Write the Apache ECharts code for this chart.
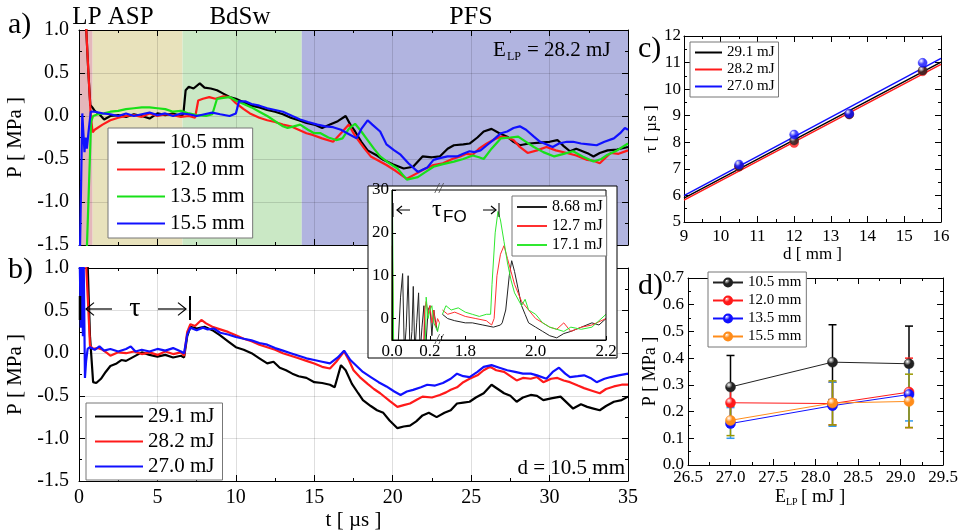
<!DOCTYPE html>
<html><head><meta charset="utf-8">
<script src="https://cdn.jsdelivr.net/npm/echarts@6/dist/echarts.min.js"></script>
<style>html,body{margin:0;padding:0;background:#fff}#c{width:958px;height:530px}</style>
</head><body><div id="c"></div>
<script>
// ---------- Panel a: pressure vs time at several distances (E_LP = 28.2 mJ) ----------
const seriesNamesA = ['10.5 mm', '12.0 mm', '13.5 mm', '15.5 mm'];
const a105 = [[0.45,1.05],[0.6,0.5],[0.72,0.13],[0.85,0.1],[1.0,0.06],[1.3,0.02],[1.6,-0.04],[2.0,0.0],[2.5,0.01],[3.0,-0.01],[3.5,0.02],[4.0,0.0],[4.5,-0.03],[5.0,0.03],[5.5,0.01],[6.0,0.03],[6.5,0.0],[6.65,0.02],[6.8,0.3],[7.0,0.34],[7.3,0.32],[7.7,0.38],[8.0,0.33],[8.4,0.32],[8.8,0.3],[9.2,0.26],[9.6,0.22],[10.0,0.2],[10.5,0.16],[11.0,0.12],[11.5,0.1],[12.0,0.07],[12.5,0.05],[13.0,0.02],[13.5,-0.02],[14.0,-0.05],[14.5,-0.08],[15.0,-0.1],[15.5,-0.14],[16.0,-0.1],[16.5,-0.06],[17.0,0.0],[17.3,-0.1],[17.6,-0.18],[18.0,-0.3],[18.4,-0.4],[19.0,-0.46],[19.4,-0.51],[20.0,-0.56],[20.7,-0.61],[21.3,-0.59],[21.9,-0.47],[22.5,-0.48],[23.0,-0.47],[23.5,-0.38],[23.9,-0.34],[24.5,-0.33],[24.9,-0.32],[25.4,-0.25],[25.8,-0.18],[26.3,-0.15],[26.8,-0.2],[27.3,-0.24],[27.7,-0.3],[28.1,-0.34],[28.7,-0.32],[29.4,-0.31],[30.0,-0.3],[30.5,-0.28],[30.9,-0.35],[31.3,-0.41],[31.7,-0.38],[32.1,-0.41],[32.5,-0.44],[32.8,-0.47],[33.2,-0.43],[33.7,-0.40],[34.3,-0.39],[35.0,-0.36]];
const a120 = [[0.45,1.05],[0.6,0.5],[0.75,0.0],[0.87,-0.19],[1.0,-0.16],[1.5,-0.1],[2.0,-0.05],[2.5,-0.02],[3.0,0.0],[3.5,0.01],[4.0,-0.01],[4.5,0.03],[5.0,0.0],[5.5,0.02],[6.0,0.01],[6.5,-0.01],[7.0,0.0],[7.4,-0.02],[7.6,0.18],[7.9,0.2],[8.3,0.22],[8.7,0.2],[9.2,0.23],[9.6,0.22],[10.0,0.15],[10.5,0.08],[10.9,0.03],[11.5,-0.02],[12.0,-0.05],[12.5,-0.07],[13.0,-0.1],[13.5,-0.12],[14.0,-0.16],[14.5,-0.2],[14.9,-0.22],[15.5,-0.26],[16.2,-0.3],[16.7,-0.2],[17.2,-0.1],[17.5,-0.2],[17.8,-0.28],[18.2,-0.38],[18.6,-0.47],[19.1,-0.52],[19.6,-0.57],[20.2,-0.64],[20.9,-0.73],[21.5,-0.67],[22.0,-0.62],[22.6,-0.57],[23.2,-0.55],[23.8,-0.5],[24.3,-0.47],[24.7,-0.44],[25.1,-0.45],[25.5,-0.38],[26.0,-0.32],[26.5,-0.27],[26.9,-0.24],[27.3,-0.25],[27.7,-0.28],[28.1,-0.36],[28.6,-0.43],[29.2,-0.4],[29.8,-0.36],[30.4,-0.4],[31.1,-0.43],[31.7,-0.46],[32.4,-0.51],[32.8,-0.52],[33.2,-0.55],[33.6,-0.48],[33.9,-0.43],[34.4,-0.44],[35.0,-0.4]];
const a135 = [[0.49,-1.6],[0.77,-0.07],[0.9,0.0],[1.2,0.02],[1.6,0.03],[2.0,0.05],[2.5,0.06],[3.0,0.08],[3.5,0.09],[4.0,0.1],[4.5,0.1],[5.0,0.09],[5.5,0.08],[6.0,0.05],[6.5,0.06],[7.0,0.03],[7.5,0.01],[8.1,0.0],[8.5,0.02],[8.8,0.2],[9.2,0.21],[9.6,0.22],[10.0,0.18],[10.5,0.14],[11.0,0.1],[11.5,0.05],[12.0,0.0],[12.5,-0.06],[13.0,-0.12],[13.3,-0.14],[13.7,-0.12],[14.1,-0.1],[14.6,-0.16],[15.0,-0.2],[15.4,-0.2],[15.9,-0.25],[16.4,-0.28],[16.8,-0.26],[17.2,-0.15],[17.6,-0.09],[18.0,-0.18],[18.4,-0.28],[18.8,-0.38],[19.2,-0.47],[19.7,-0.54],[20.3,-0.61],[20.9,-0.74],[21.6,-0.71],[22.1,-0.65],[22.6,-0.59],[23.2,-0.56],[23.9,-0.53],[24.5,-0.5],[25.1,-0.46],[25.5,-0.48],[25.8,-0.5],[26.3,-0.38],[26.9,-0.26],[27.5,-0.25],[28.0,-0.24],[28.5,-0.3],[29.0,-0.36],[29.6,-0.42],[30.3,-0.47],[30.9,-0.44],[31.5,-0.41],[32.1,-0.47],[32.8,-0.53],[33.3,-0.5],[33.7,-0.45],[34.3,-0.4],[35.0,-0.32]];
const a155 = [[0.06,-1.6],[0.21,0.03],[0.28,-0.2],[0.35,-0.42],[0.42,-0.25],[0.5,-0.38],[0.6,-0.2],[0.75,0.05],[1.0,0.05],[1.5,0.03],[2.0,0.02],[2.5,0.0],[3.0,0.03],[3.5,0.0],[4.0,0.02],[4.5,0.04],[5.0,0.01],[5.5,0.03],[6.0,0.0],[6.5,0.03],[7.0,0.02],[7.5,0.0],[8.0,0.02],[8.5,0.04],[9.0,0.02],[9.6,0.0],[10.0,0.03],[10.2,0.17],[10.6,0.17],[11.0,0.14],[11.5,0.12],[12.0,0.09],[12.5,0.07],[13.0,0.05],[13.6,0.0],[14.1,-0.04],[14.6,-0.07],[15.2,-0.1],[15.7,-0.12],[16.2,-0.13],[16.7,-0.16],[17.1,-0.2],[17.7,-0.26],[18.0,-0.15],[18.4,-0.05],[18.7,-0.1],[19.2,-0.18],[19.6,-0.33],[20.1,-0.4],[20.5,-0.45],[21.0,-0.55],[21.6,-0.65],[22.2,-0.6],[22.6,-0.51],[23.0,-0.49],[23.5,-0.47],[24.1,-0.47],[24.5,-0.44],[24.9,-0.41],[25.2,-0.42],[25.6,-0.4],[26.0,-0.34],[26.4,-0.28],[26.9,-0.2],[27.3,-0.18],[27.7,-0.14],[28.1,-0.12],[28.5,-0.16],[29.0,-0.24],[29.4,-0.3],[30.2,-0.36],[30.6,-0.32],[31.1,-0.3],[31.5,-0.3],[32.0,-0.32],[32.5,-0.33],[33.0,-0.34],[33.5,-0.3],[34.1,-0.26],[34.5,-0.2],[34.8,-0.14],[35.0,-0.16]];
// phase boundaries (µs): LP, ASP, BdSw, PFS
const phaseBounds = [0, 0.87, 6.6, 14.2, 35];

// ---------- Panel b: pressure vs time at d = 10.5 mm for three energies ----------
const seriesNamesB = ['29.1 mJ', '28.2 mJ', '27.0 mJ'];
const b291 = [[0.55,1.05],[0.7,0.2],[0.9,-0.34],[1.1,-0.35],[1.4,-0.3],[1.7,-0.22],[2.0,-0.15],[2.4,-0.12],[2.7,-0.08],[3.0,-0.09],[3.5,-0.04],[4.0,0.01],[4.5,-0.02],[5.0,-0.04],[5.5,-0.02],[6.0,-0.05],[6.5,-0.03],[6.7,-0.05],[6.9,0.2],[7.1,0.31],[7.5,0.29],[8.0,0.31],[8.5,0.27],[9.0,0.21],[9.5,0.14],[10.0,0.07],[10.5,0.04],[11.0,0.0],[11.5,-0.06],[12.0,-0.12],[12.4,-0.1],[12.8,-0.17],[13.2,-0.2],[13.6,-0.24],[14.0,-0.27],[14.5,-0.29],[15.0,-0.34],[15.5,-0.35],[16.0,-0.37],[16.3,-0.4],[16.7,-0.14],[17.0,-0.2],[17.4,-0.36],[17.8,-0.47],[18.1,-0.55],[18.6,-0.62],[19.0,-0.67],[19.4,-0.7],[19.8,-0.79],[20.3,-0.88],[20.7,-0.86],[21.1,-0.85],[21.5,-0.8],[21.9,-0.73],[22.3,-0.7],[22.8,-0.75],[23.3,-0.7],[23.7,-0.67],[24.1,-0.59],[24.5,-0.58],[24.9,-0.57],[25.3,-0.52],[25.8,-0.47],[26.3,-0.37],[26.7,-0.42],[27.1,-0.47],[27.5,-0.5],[27.9,-0.57],[28.3,-0.52],[28.8,-0.49],[29.2,-0.5],[29.6,-0.55],[30.1,-0.53],[30.7,-0.51],[31.1,-0.58],[31.5,-0.65],[32.0,-0.6],[32.4,-0.63],[32.8,-0.65],[33.2,-0.67],[33.6,-0.62],[34.1,-0.57],[34.6,-0.55],[35.0,-0.51]];
const b282 = [[0.45,1.05],[0.6,0.5],[0.7,0.09],[0.9,0.05],[1.2,0.06],[1.5,0.04],[1.8,0.0],[2.0,-0.03],[2.5,0.01],[3.0,0.0],[3.5,0.02],[4.0,-0.01],[4.5,0.01],[5.0,-0.02],[5.5,0.02],[6.0,-0.01],[6.5,0.01],[6.7,-0.03],[6.9,0.25],[7.1,0.34],[7.4,0.32],[7.8,0.39],[8.1,0.35],[8.5,0.31],[9.0,0.28],[9.5,0.25],[10.0,0.21],[10.5,0.17],[11.0,0.14],[11.5,0.1],[12.0,0.07],[12.5,0.04],[13.0,0.0],[13.5,-0.03],[14.0,-0.06],[14.5,-0.09],[15.0,-0.12],[15.5,-0.16],[16.0,-0.18],[16.4,-0.1],[16.9,0.02],[17.2,-0.08],[17.5,-0.2],[17.9,-0.28],[18.4,-0.36],[18.8,-0.42],[19.2,-0.47],[19.8,-0.56],[20.3,-0.63],[20.7,-0.61],[21.1,-0.59],[21.5,-0.55],[21.9,-0.51],[22.5,-0.52],[23.0,-0.49],[23.4,-0.46],[23.7,-0.43],[24.1,-0.4],[24.5,-0.34],[24.9,-0.3],[25.4,-0.26],[25.8,-0.2],[26.2,-0.16],[26.6,-0.2],[27.1,-0.22],[27.5,-0.27],[27.9,-0.32],[28.3,-0.29],[28.8,-0.3],[29.2,-0.28],[29.6,-0.34],[30.1,-0.3],[30.5,-0.29],[30.9,-0.32],[31.3,-0.34],[31.8,-0.38],[32.2,-0.41],[32.7,-0.44],[33.2,-0.47],[33.6,-0.42],[34.1,-0.39],[34.6,-0.37],[35.0,-0.37]];
const b270 = [[0.05,1.05],[0.12,0.3],[0.18,1.05],[0.25,0.2],[0.3,1.05],[0.38,-0.29],[0.45,-0.1],[0.55,0.05],[0.7,0.07],[1.0,0.04],[1.3,0.08],[1.6,0.03],[2.0,0.05],[2.5,0.02],[3.0,0.05],[3.3,0.08],[3.6,0.02],[4.0,0.04],[4.5,0.02],[5.0,0.05],[5.5,0.03],[6.0,0.06],[6.5,0.02],[6.7,0.0],[6.9,0.22],[7.1,0.3],[7.5,0.27],[7.9,0.3],[8.2,0.28],[8.6,0.29],[9.0,0.24],[9.5,0.22],[10.0,0.19],[10.5,0.17],[11.0,0.15],[11.5,0.12],[12.0,0.1],[12.5,0.06],[13.0,0.03],[13.5,0.0],[14.0,-0.03],[14.5,-0.06],[15.0,-0.08],[15.5,-0.1],[16.0,-0.12],[16.5,-0.05],[16.9,0.03],[17.3,-0.08],[17.7,-0.15],[18.1,-0.22],[18.6,-0.28],[19.1,-0.34],[19.6,-0.39],[20.1,-0.45],[20.5,-0.49],[20.9,-0.45],[21.3,-0.43],[21.8,-0.4],[22.2,-0.37],[22.7,-0.38],[23.2,-0.35],[23.7,-0.3],[24.1,-0.24],[24.5,-0.27],[24.9,-0.28],[25.4,-0.22],[25.8,-0.16],[26.3,-0.14],[26.8,-0.17],[27.3,-0.2],[27.8,-0.22],[28.3,-0.24],[28.8,-0.24],[29.2,-0.26],[29.8,-0.3],[30.2,-0.22],[30.6,-0.17],[31.0,-0.24],[31.3,-0.28],[31.8,-0.27],[32.2,-0.26],[32.6,-0.29],[33.0,-0.34],[33.5,-0.3],[33.9,-0.28],[34.4,-0.26],[35.0,-0.24]];

// ---------- Inset: near-field pressure (broken time axis) ----------
const seriesNamesIn = ['8.68 mJ', '12.7 mJ', '17.1 mJ'];
const in868s1 = [[0.01,-8],[0.03,-8],[0.045,5],[0.056,10.5],[0.065,-8],[0.075,-2],[0.085,10],[0.095,-8],[0.105,-3],[0.112,7.5],[0.12,-8],[0.13,-1],[0.14,6],[0.148,-8],[0.158,-2],[0.168,3],[0.176,-8],[0.19,2],[0.2,3],[0.21,-4],[0.22,2],[0.23,-1],[0.24,-3]];
const in127s1 = [[0.0,-8],[0.002,17],[0.008,-8],[0.165,-8],[0.172,2],[0.18,4],[0.19,1],[0.2,3],[0.21,-1],[0.22,2],[0.23,-2],[0.24,0],[0.25,-1]];
const in171s1 = [[0.0,-8],[0.002,30],[0.004,19],[0.009,-8],[0.175,-8],[0.18,5],[0.19,0],[0.2,2],[0.21,3],[0.22,-1],[0.23,-2],[0.24,-3],[0.25,-1]];
const in868s2 = [[1.735,1],[1.75,0],[1.77,-0.5],[1.8,-1],[1.82,-1],[1.85,-1.5],[1.88,-2],[1.9,-1.5],[1.905,-1],[1.915,2],[1.925,10],[1.932,13.5],[1.94,11],[1.95,7],[1.96,3],[1.97,1],[1.98,-1],[2.0,-2],[2.02,-3],[2.04,-4],[2.06,-4.5],[2.08,-3.5],[2.1,-3],[2.13,-2],[2.16,-1],[2.18,-1.5],[2.2,0]];
const in127s2 = [[1.735,2],[1.75,1],[1.77,1.5],[1.8,0.5],[1.83,0],[1.86,-0.5],[1.875,-1.5],[1.882,0],[1.89,10],[1.9,15],[1.91,17],[1.92,14],[1.93,11],[1.94,8],[1.96,4],[1.98,2],[2.0,0],[2.02,-1],[2.04,-2],[2.06,-2.5],[2.08,-1],[2.1,-3],[2.13,-2],[2.16,-1.5],[2.2,0]];
const in171s2 = [[1.735,1],[1.745,3],[1.76,2],[1.78,2.5],[1.8,1.5],[1.82,1],[1.84,0.5],[1.86,1],[1.872,1],[1.876,8],[1.885,20],[1.893,25],[1.9,23],[1.91,18],[1.92,13],[1.93,9],[1.94,6],[1.96,3],[1.97,4.5],[1.98,2],[2.0,1],[2.02,-1],[2.04,-2],[2.06,-2.5],[2.08,-3],[2.1,-2],[2.13,-2.5],[2.16,-2],[2.2,1]];
const insetSeg1 = [0, 0.258];
const insetSeg2Bounds = [1.731, 1.871, 2.097, 2.2];

// ---------- Panel c: delay tau vs distance ----------
const dC = [10.5, 12.0, 13.5, 15.5];
const tau291 = [7.10, 8.07, 9.05, 10.70];
const tau282 = [7.08, 7.97, 9.05, 10.67];
const tau270 = [7.16, 8.29, 9.08, 10.99];
const fitD = [9, 16];
const fit291 = [5.90, 11.02];
const fit282 = [5.82, 10.93];
const fit270 = [5.99, 11.16];

// ---------- Panel d: peak pressure vs laser energy ----------
const eLP = [27.0, 28.2, 29.1];
const p105 = [0.292, 0.385, 0.379], lo105 = [0.17, 0.245, 0.24], hi105 = [0.41, 0.525, 0.52];
const p120 = [0.233, 0.230, 0.273], lo120 = [0.17, 0.15, 0.14], hi120 = [0.295, 0.31, 0.40];
const p135 = [0.155, 0.222, 0.264], lo135 = [0.10, 0.145, 0.165], hi135 = [0.215, 0.31, 0.37];
const p155 = [0.167, 0.232, 0.238], lo155 = [0.11, 0.15, 0.14], hi155 = [0.22, 0.315, 0.34];

// ---------------- styling ----------------
const SERIF = 'Liberation Serif';
const phaseColors = ['#e4b7bb', '#e8e2bc', '#cae8c5', '#b1b4e0'];
const C = {k:'#000000', r:'#ff1a1a', g:'#18e018', b:'#1010ff', o:'#ff8c1a'};

const tick = (len) => ({show:true, inside:true, length:len, lineStyle:{color:'#000', width:1}});
const minor = (len) => ({show:true, splitNumber:2, length:len, lineStyle:{color:'#000', width:1}});
const axLine = {show:true, onZero:false, lineStyle:{color:'#000', width:1}};
const gridLine = {show:true, lineStyle:{color:'rgba(0,0,0,0.13)', width:1}};
const fmt1 = v => v.toFixed(1);
const lab = (size, margin, extra) => Object.assign({show:true, margin:margin, fontFamily:SERIF, fontSize:size, color:'#000'}, extra || {});
const nameStyle = (size) => ({fontFamily:SERIF, fontSize:size, color:'#000'});

function valueAxis(o) {
  return Object.assign({
    type:'value', axisLine:axLine, axisTick:tick(6), minorTick:minor(3),
    splitLine:{show:false}, axisLabel:{show:false}, z:3
  }, o);
}

const xAxis = [
  valueAxis({gridIndex:0, position:'bottom', min:0, max:35, interval:5, splitLine:gridLine}),
  valueAxis({gridIndex:0, position:'top', min:0, max:35, interval:5}),
  valueAxis({gridIndex:1, position:'bottom', min:0, max:35, interval:5, splitLine:gridLine,
    axisLabel:lab(20, 7), name:'t [ µs ]', nameLocation:'middle', nameGap:29, nameTextStyle:nameStyle(21)}),
  valueAxis({gridIndex:1, position:'top', min:0, max:35, interval:5}),
  valueAxis({gridIndex:2, position:'bottom', min:insetSeg1[0], max:insetSeg1[1], interval:0.2, minorTick:{show:false}, axisTick:tick(4), z:22,
    axisLabel:lab(17, 3, {formatter: v => Math.abs(v/0.2 - Math.round(v/0.2)) < 1e-6 ? v.toFixed(1) : ''})}),
  valueAxis({gridIndex:3, position:'bottom', min:insetSeg2Bounds[0], max:insetSeg2Bounds[3], splitNumber:2, minorTick:{show:false}, axisTick:tick(4), z:22,
    axisLabel:lab(17, 3, {showMinLabel:false, formatter: v => Math.abs(v/0.2 - Math.round(v/0.2)) < 1e-6 ? v.toFixed(1) : ''})}),
  valueAxis({gridIndex:4, position:'bottom', min:9, max:16, interval:1,
    axisLabel:lab(17, 6), name:'d [ mm ]', nameLocation:'middle', nameGap:22, nameTextStyle:nameStyle(17)}),
  valueAxis({gridIndex:4, position:'top', min:9, max:16, interval:1}),
  valueAxis({gridIndex:5, position:'bottom', min:26.5, max:29.5, interval:0.5,
    axisLabel:lab(17, 4, {formatter:fmt1})}),
  valueAxis({gridIndex:5, position:'top', min:26.5, max:29.5, interval:0.5}),
];

const yAxis = [
  valueAxis({gridIndex:0, position:'left', min:-1.5, max:1.0, interval:0.5, splitLine:gridLine,
    axisLabel:lab(20, 10, {formatter:fmt1}), name:'P [ MPa ]', nameLocation:'middle', nameGap:41, nameTextStyle:nameStyle(21)}),
  valueAxis({gridIndex:0, position:'right', min:-1.5, max:1.0, interval:0.5}),
  valueAxis({gridIndex:1, position:'left', min:-1.5, max:1.0, interval:0.5, splitLine:gridLine,
    axisLabel:lab(20, 10, {formatter:fmt1}), name:'P [ MPa ]', nameLocation:'middle', nameGap:41, nameTextStyle:nameStyle(21)}),
  valueAxis({gridIndex:1, position:'right', min:-1.5, max:1.0, interval:0.5}),
  valueAxis({gridIndex:2, position:'left', min:-5, max:30, minorTick:{show:false}, axisTick:tick(4), z:22,
    axisLabel:lab(17, 3, {formatter: v => Math.abs(v/10 - Math.round(v/10)) < 1e-6 ? String(v) : ''})}),
  valueAxis({gridIndex:3, position:'left', min:-5, max:30, show:false}),
  valueAxis({gridIndex:4, position:'left', min:5, max:12, interval:1,
    axisLabel:lab(17, 3), name:'τ [ µs ]', nameLocation:'middle', nameGap:24, nameTextStyle:nameStyle(17)}),
  valueAxis({gridIndex:4, position:'right', min:5, max:12, interval:1}),
  valueAxis({gridIndex:5, position:'left', min:0, max:0.7, interval:0.1,
    axisLabel:lab(17, 4, {formatter:fmt1}), name:'P [ MPa ]', nameLocation:'middle', nameGap:29, nameTextStyle:nameStyle(18)}),
  valueAxis({gridIndex:5, position:'right', min:0, max:0.7, interval:0.1}),
];

function bandSeries(bounds, colors, xi, yi, z) {
  const data = [];
  for (let i = 0; i < bounds.length - 1; i++) {
    data.push([{xAxis:bounds[i], itemStyle:{color:colors[i], opacity:1}}, {xAxis:bounds[i+1]}]);
  }
  return {type:'line', xAxisIndex:xi, yAxisIndex:yi, data:[], z:z, silent:true,
    markArea:{silent:true, data:data}};
}
function traceSeries(name, data, color, xi, yi, width, z) {
  return {type:'line', name:name, data:data, xAxisIndex:xi, yAxisIndex:yi, symbol:'none',
    showSymbol:false, clip:true, z:z, silent:true, animation:false,
    lineStyle:{color:color, width:width}, itemStyle:{color:color}};
}
function sphere(c) {
  return new echarts.graphic.RadialGradient(0.35, 0.3, 0.75, [
    {offset:0, color:'#ffffff'}, {offset:0.45, color:c}, {offset:1, color:c}]);
}
function zipXY(xs, ys) { return xs.map((x, i) => [x, ys[i]]); }
function errSeries(xs, lo, hi, color) {
  return {type:'custom', xAxisIndex:8, yAxisIndex:8, z:3, silent:true,
    data: xs.map((x, i) => [x, lo[i], hi[i]]),
    encode:{x:0, y:[1,2]},
    renderItem: function(params, api) {
      const x = api.value(0);
      const a = api.coord([x, api.value(1)]);
      const b = api.coord([x, api.value(2)]);
      const w = 4, st = {stroke:color, lineWidth:1.5};
      return {type:'group', children:[
        {type:'line', shape:{x1:a[0], y1:a[1], x2:b[0], y2:b[1]}, style:st},
        {type:'line', shape:{x1:a[0]-w, y1:a[1], x2:a[0]+w, y2:a[1]}, style:st},
        {type:'line', shape:{x1:b[0]-w, y1:b[1], x2:b[0]+w, y2:b[1]}, style:st}
      ]};
    }};
}
function markerLine(name, xs, ys, color) {
  return {type:'line', name:name, xAxisIndex:8, yAxisIndex:8, data:zipXY(xs, ys), z:5,
    symbol:'circle', symbolSize:10, showSymbol:true, silent:true, animation:false,
    lineStyle:{color:color, width:1}, itemStyle:{color:sphere(color), borderColor:color, borderWidth:0.5}};
}
function pointSeries(xs, ys, color) {
  return {type:'scatter', xAxisIndex:6, yAxisIndex:6, data:zipXY(xs, ys), z:5, silent:true,
    symbol:'circle', symbolSize:9, itemStyle:{color:sphere(color), borderColor:color, borderWidth:0.5}};
}

const series = [
  bandSeries(phaseBounds, phaseColors, 0, 0, 1),
  traceSeries('a|' + seriesNamesA[0], a105, C.k, 0, 0, 2.2, 5),
  traceSeries('a|' + seriesNamesA[1], a120, C.r, 0, 0, 2.2, 5),
  traceSeries('a|' + seriesNamesA[2], a135, C.g, 0, 0, 2.2, 5),
  traceSeries('a|' + seriesNamesA[3], a155, C.b, 0, 0, 2.2, 5),
  traceSeries('b|' + seriesNamesB[0], b291, C.k, 2, 2, 2.2, 5),
  traceSeries('b|' + seriesNamesB[1], b282, C.r, 2, 2, 2.2, 5),
  traceSeries('b|' + seriesNamesB[2], b270, C.b, 2, 2, 2.2, 5),
  bandSeries(insetSeg1, [phaseColors[0]], 4, 4, 15),
  bandSeries(insetSeg2Bounds, phaseColors.slice(1), 5, 5, 15),
  traceSeries('i|' + seriesNamesIn[0], in868s1, '#222', 4, 4, 1, 20),
  traceSeries('i|' + seriesNamesIn[1], in127s1, '#ff3030', 4, 4, 1, 20),
  traceSeries('i|' + seriesNamesIn[2], in171s1, '#30e830', 4, 4, 1, 20),
  traceSeries('i|' + seriesNamesIn[0], in868s2, '#222', 5, 5, 1, 20),
  traceSeries('i|' + seriesNamesIn[1], in127s2, '#ff3030', 5, 5, 1, 20),
  traceSeries('i|' + seriesNamesIn[2], in171s2, '#30e830', 5, 5, 1, 20),
  traceSeries('c|' + seriesNamesB[0], zipXY(fitD, fit291), C.k, 6, 6, 1.5, 4),
  traceSeries('c|' + seriesNamesB[1], zipXY(fitD, fit282), C.r, 6, 6, 1.5, 4),
  traceSeries('c|' + seriesNamesB[2], zipXY(fitD, fit270), C.b, 6, 6, 1.5, 4),
  pointSeries(dC, tau282, C.r),
  pointSeries(dC, tau291, '#222'),
  pointSeries(dC, tau270, C.b),
  errSeries(eLP, lo105, hi105, '#000'),
  errSeries(eLP, lo120, hi120, '#ff2020'),
  errSeries(eLP, lo135, hi135, '#3399ee'),
  errSeries(eLP, lo155, hi155, '#999900'),
  markerLine('d|' + seriesNamesA[0], eLP, p105, '#222'),
  markerLine('d|' + seriesNamesA[1], eLP, p120, C.r),
  markerLine('d|' + seriesNamesA[2], eLP, p135, C.b),
  markerLine('d|' + seriesNamesA[3], eLP, p155, C.o),
];

const legFmt = n => n.split('|')[1];
function legend(o, lineOnly) {
  return Object.assign({orient:'vertical', selectedMode:false, backgroundColor:'#fff',
    borderColor:'#777', borderWidth:1, formatter:legFmt, align:'left',
    itemStyle: lineOnly ? {opacity:0} : {opacity:1},
    textStyle:{fontFamily:SERIF, color:'#000'}}, o);
}
const legends = [
  legend({left:108, top:128, itemWidth:48, itemHeight:14, itemGap:6, padding:[4,8,4,8],
    textStyle:{fontFamily:SERIF, fontSize:21, color:'#000'}, data:seriesNamesA.map(n => 'a|' + n)}, true),
  legend({left:86, top:403, itemWidth:48, itemHeight:14, itemGap:4, padding:[3,8,3,8],
    textStyle:{fontFamily:SERIF, fontSize:21, color:'#000'}, data:seriesNamesB.map(n => 'b|' + n)}, true),
  legend({left:512, top:196, itemWidth:30, itemHeight:12, itemGap:3, padding:[3,4,3,4], z:30,
    textStyle:{fontFamily:SERIF, fontSize:16, color:'#000'}, data:seriesNamesIn.map(n => 'i|' + n)}, true),
  legend({left:690, top:42, itemWidth:27, itemHeight:12, itemGap:2, padding:[3,4,3,4],
    textStyle:{fontFamily:SERIF, fontSize:15, color:'#000'}, data:seriesNamesB.map(n => 'c|' + n)}, true),
  legend({left:708, top:272, itemWidth:30, itemHeight:10, itemGap:3, padding:[3,5,3,4],
    textStyle:{fontFamily:SERIF, fontSize:15, color:'#000'}, data:seriesNamesA.map(n => 'd|' + n)}, false),
];

function txt(x, y, text, size, opts) {
  return {type:'text', x:x, y:y, z:40, silent:true,
    style:Object.assign({text:text, fill:'#000', font:size + 'px "' + SERIF + '"', align:'left', verticalAlign:'middle'}, (opts||{}))};
}
function seg(x1, y1, x2, y2, w) {
  return {type:'line', z:40, silent:true, shape:{x1:x1, y1:y1, x2:x2, y2:y2}, style:{stroke:'#000', lineWidth:w || 1}};
}
function head(x, y, dir, s) {
  return {type:'polyline', z:40, silent:true,
    shape:{points:[[x - dir*s, y - s*0.8], [x, y], [x - dir*s, y + s*0.8]]}, style:{stroke:'#000', lineWidth:1.2, fill:null}};
}

const graphic = [
  {type:'rect', z:10, silent:true, shape:{x:368, y:186, width:249, height:172}, style:{fill:'#fff', stroke:'#000', lineWidth:1}},
  {type:'rect', z:25, silent:true, shape:{x:392, y:190, width:214, height:150}, style:{fill:null, stroke:'#000', lineWidth:1}},
  txt(435, 189, '//', 14, {font:'italic 14px "' + SERIF + '"', fill:'#444'}),
  txt(435, 340, '//', 14, {font:'italic 14px "' + SERIF + '"', fill:'#444'}),
  txt(8, 25, 'a)', 30), txt(8, 270, 'b)', 30), txt(638, 49, 'c)', 30), txt(638, 286, 'd)', 30),
  txt(113, 17, 'LP ASP', 25, {align:'center'}),
  txt(240, 17, 'BdSw', 25, {align:'center'}),
  txt(471, 17, 'PFS', 26, {align:'center'}),
  txt(493, 50, 'E', 21), txt(507, 57, 'LP', 12), txt(527, 50, '= 28.2 mJ', 21),
  txt(625, 468, 'd = 10.5 mm', 21, {align:'right'}),
  seg(80, 296, 80, 320, 2.5), seg(86, 309, 112, 309, 1.2), head(86, 309, -1, 8),
  txt(135, 309, 'τ', 28, {align:'center'}),
  seg(158, 309, 186, 309, 1.2), head(186, 309, 1, 8), seg(190, 296, 190, 320, 2),
  seg(393, 203, 393, 217, 1), seg(397, 210, 410, 210, 1), head(397, 210, -1, 5),
  txt(432, 210, 'τ', 24), txt(443, 217, 'FO', 17, {font:'17px "Liberation Sans"'}),
  seg(483, 210, 496, 210, 1), head(496, 210, 1, 5), seg(499, 203, 499, 217, 1),
  txt(775, 497, 'E', 18), txt(786, 502, 'LP', 10), txt(801, 497, '[ mJ ]', 19),
];

const grid = [
  {left:79, top:30, width:549, height:215},
  {left:79, top:268, width:549, height:213},
  {left:392, top:190, width:49, height:150, z:20},
  {left:441, top:190, width:165, height:150, z:20},
  {left:684, top:36, width:257, height:186},
  {left:688, top:278, width:255, height:187},
].map(g => Object.assign({containLabel:false, outerBoundsMode:'none', show:false}, g));

const chart = echarts.init(document.getElementById('c'), null, {renderer:'canvas', width:958, height:530});
chart.setOption({
  animation:false,
  backgroundColor:'#fff',
  grid: grid, xAxis: xAxis, yAxis: yAxis,
  legend: legends, series: series, graphic: graphic
});
</script></body></html>
